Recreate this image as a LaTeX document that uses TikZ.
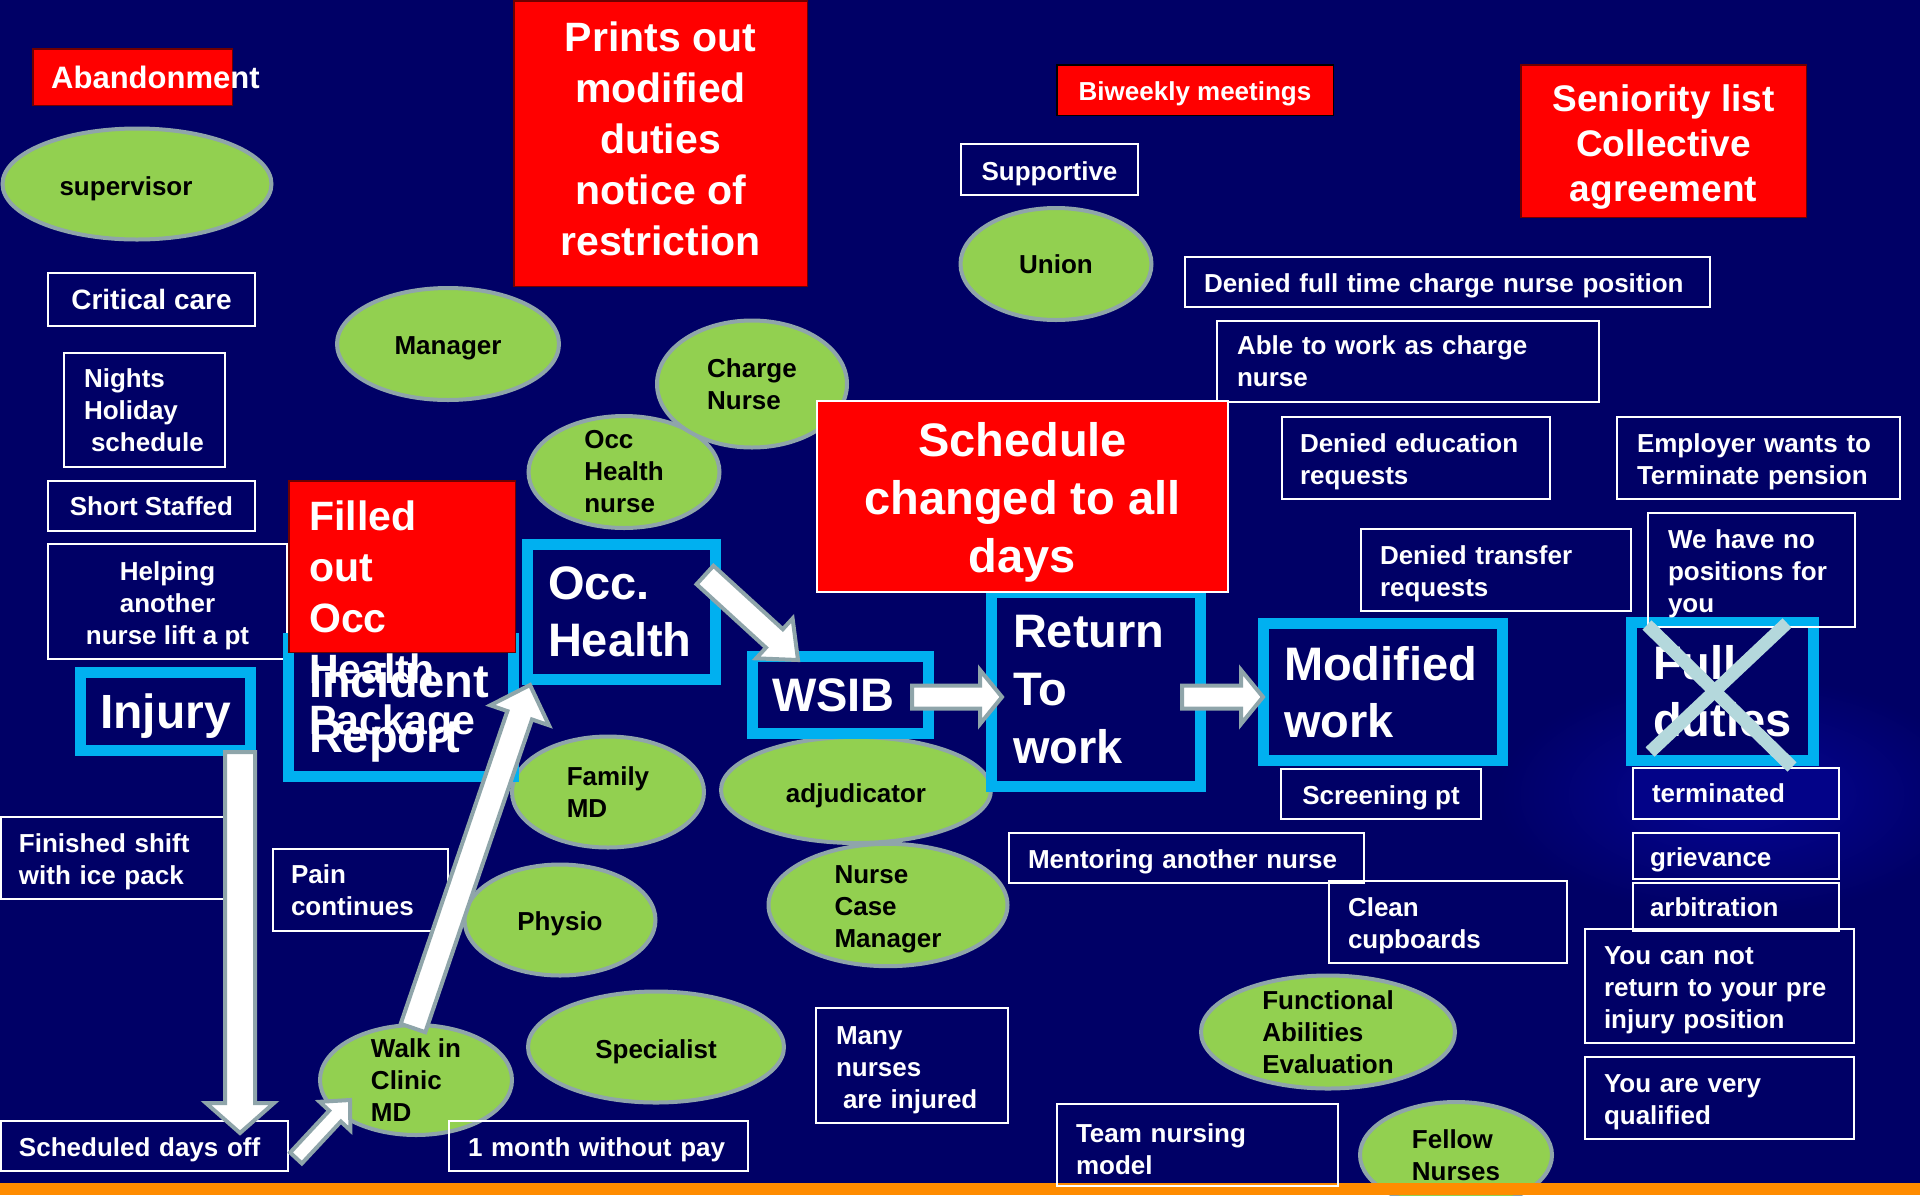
\documentclass[tikz,border=0pt]{standalone}
\usepackage{fontspec}
\setmainfont{Liberation Sans}
\usetikzlibrary{shapes.geometric,calc}
\hyphenpenalty=10000 \exhyphenpenalty=10000
\definecolor{navy}{RGB}{0,0,102}
\definecolor{cyanb}{RGB}{0,176,240}
\definecolor{leaf}{RGB}{146,208,80}
\definecolor{rim}{RGB}{143,165,170}
\definecolor{redb}{RGB}{255,0,0}
\definecolor{darkrim}{RGB}{110,0,0}
\definecolor{crossc}{RGB}{180,216,220}
\definecolor{orangeb}{RGB}{255,140,0}
\definecolor{glowc}{RGB}{5,5,150}
\newcommand\fntA{\bfseries\fontsize{26pt}{32pt}\selectfont}
\newcommand\fntB{\bfseries\fontsize{28pt}{34pt}\selectfont}
\newcommand\fntC{\bfseries\fontsize{47pt}{57pt}\selectfont}
\newcommand\fntR{\bfseries\fontsize{47pt}{58pt}\selectfont}
\newcommand\fntI{\bfseries\fontsize{48pt}{56pt}\selectfont}
\newcommand\fntD{\bfseries\fontsize{47pt}{55pt}\selectfont}
\newcommand\fntF{\bfseries\fontsize{41pt}{51pt}\selectfont}
\newcommand\fntS{\bfseries\fontsize{37pt}{45pt}\selectfont}
\newcommand\fntT{\bfseries\fontsize{31pt}{37pt}\selectfont}
% strut that lifts the first line height (keeps text cap-centred when the last line has descenders)
\newcommand\tp{\rule{0pt}{27pt}}
\newcommand\tq[1]{\rule{0pt}{#1}}
% block arrow: #1 tail, #2 tip, #3 half shaft, #4 half head, #5 head length
\newcommand\blockarr[5]{%
  \path ($(#2)!#5!(#1)$) coordinate (bahd);
  \draw[barrow] ($(#1)!#3!90:(#2)$) -- ($(bahd)!#3!90:(#2)$) -- ($(bahd)!#4!90:(#2)$) -- (#2)
    -- ($(bahd)!#4!-90:(#2)$) -- ($(bahd)!#3!-90:(#2)$) -- ($(#1)!#3!-90:(#2)$) -- cycle;}
\begin{document}
\begin{tikzpicture}[x=1pt,y=-1pt,
  wbox/.style={draw=white, line width=2pt, text=white, inner ysep=0pt, anchor=north west, align=left, font=\fntA},
  cbox/.style={draw=cyanb, line width=11pt, fill=navy, text=white, inner ysep=0pt, anchor=north west, align=left, font=\fntC},
  rbox/.style={fill=redb, draw=darkrim, line width=1.5pt, text=white, inner sep=0pt, anchor=north west, align=center},
  ell/.style={ellipse, fill=leaf, draw=rim, line width=4pt, text=black, font=\fntA, align=left, inner xsep=0pt, inner ysep=-5pt},
  barrow/.style={draw=rim, fill=white, line width=4pt, line join=miter},
  xline/.style={draw=crossc, line width=13pt}]
% background
\fill[navy] (0,0) rectangle (1920,1195);
\useasboundingbox (0,0) rectangle (1920,1195);
\shade[inner color=glowc, outer color=navy] (1736,795) ellipse (240 and 120);

% red boxes (top)
\node[rbox, minimum width=199.5pt, minimum height=56.5pt] (aband) at (32,48) {};
\node[anchor=base west, inner sep=0pt, text=white, font=\fntT] (abandtxt) at (51,88) {Abandonment};
\node[rbox, minimum width=293.5pt, minimum height=285.5pt, font=\fntF] (prints) at (513,0) {Prints out\\modified\\duties\\notice of\\restriction\rule[-10pt]{0pt}{0pt}};
\node[rbox, draw=black, minimum width=276.5pt, minimum height=50.5pt, font=\fntA] (biweekly) at (1056,64) {\tq{27pt}Biweekly meetings};
\node[rbox, minimum width=285.5pt, minimum height=152.5pt, font=\fntS] (seniority) at (1520,64) {\tq{39pt}Seniority list\\Collective\\agreement};

% ellipses
\node[ell, minimum width=269pt, minimum height=111pt] (supervisor) at (137,184) {\hspace*{-22pt}\tq{28pt}supervisor};
\node[ell, minimum width=222pt, minimum height=112pt] (manager) at (448,344) {\tp Manager};
\node[ell, minimum width=191pt, minimum height=112pt] (occn) at (624,472) {Occ\\Health\\nurse};
\node[ell, minimum width=190pt, minimum height=127pt] (charge) at (752,384) {Charge\\Nurse};
\node[ell, minimum width=191pt, minimum height=112pt] (union) at (1056,264) {Union};
\node[ell, minimum width=192pt, minimum height=111pt] (family) at (608,792) {Family\\MD};
\node[ell, minimum width=191pt, minimum height=111pt] (physio) at (560,920) {\tp Physio};
\node[ell, minimum width=270pt, minimum height=106pt] (adjud) at (856,790) {\tq{30pt}adjudicator};
\node[ell, minimum width=239pt, minimum height=112pt] (ncm) at (888,905) {\tp Nurse\\Case\\Manager};
\node[ell, minimum width=192pt, minimum height=110pt] (walkin) at (416,1080) {Walk in\\Clinic\\MD};
\node[ell, minimum width=256pt, minimum height=111pt] (specialist) at (656,1047) {\tq{28pt}Specialist};
\node[ell, minimum width=254pt, minimum height=113pt] (fae) at (1328,1032) {Functional\\Abilities\\Evaluation};
\node[ell, minimum width=192pt, minimum height=106pt] (fellow) at (1456,1155) {Fellow\\Nurses};

% white boxes, left column
\node[wbox, align=center, font=\fntB, minimum width=207pt, minimum height=53pt] (critical) at (47,272) {Critical care};
\node[wbox, minimum width=161pt, minimum height=114pt, inner xsep=20pt, text width=121pt] (nights) at (63,352) {Nights\\Holiday\\\hspace*{7pt}schedule};
\node[wbox, align=center, minimum width=207pt, minimum height=50pt] (short) at (47,480) {Short Staffed};
\node[wbox, align=center, minimum width=239pt, minimum height=115pt] (helping) at (47,543) {\tp Helping\\another\\nurse lift a pt};
\node[wbox, minimum width=224pt, minimum height=82pt, inner xsep=18pt, text width=188pt] (finished) at (0,816) {\tp Finished shift\\with ice pack};
\node[wbox, minimum width=175pt, minimum height=82pt, inner xsep=18pt, text width=139pt] (pain) at (272,848) {Pain\\continues};
\node[wbox, minimum width=287pt, minimum height=50pt, inner xsep=18pt, text width=251pt] (sched) at (0,1120) {\tp Scheduled days off};
\node[wbox, minimum width=299pt, minimum height=50pt, inner xsep=19pt, text width=261pt] (month) at (448,1120) {\tp 1 month without pay};

% white boxes, middle and right
\node[wbox, align=center, minimum width=177pt, minimum height=51pt] (supportive) at (960,143) {\tq{28pt}Supportive};
\node[wbox, minimum width=525pt, minimum height=50pt, inner xsep=19pt, text width=487pt] (denfull) at (1184,256) {\tp Denied full time charge nurse position};
\node[wbox, minimum width=382pt, minimum height=81pt, inner xsep=20pt, text width=342pt] (able) at (1216,320) {Able to work as charge\\nurse};
\node[wbox, minimum width=268pt, minimum height=82pt, inner xsep=18pt, text width=232pt] (dened) at (1281,416) {\tp Denied education\\requests};
\node[wbox, minimum width=283pt, minimum height=82pt, inner xsep=20pt, text width=243pt] (employer) at (1616,416) {\tp Employer wants to\\Terminate pension};
\node[wbox, minimum width=270pt, minimum height=82pt, inner xsep=19pt, text width=232pt] (dentrans) at (1360,528) {\tp Denied transfer\\requests};
\node[wbox, align=center, minimum width=200pt, minimum height=50pt] (screening) at (1280,768) {\tp Screening pt};
\node[wbox, minimum width=355pt, minimum height=50pt, inner xsep=19pt, text width=317pt] (mentoring) at (1008,832) {\tp Mentoring another nurse};
\node[wbox, minimum width=238pt, minimum height=82pt, inner xsep=19pt, text width=200pt] (clean) at (1328,880) {\tp Clean\\cupboards};
\node[wbox, minimum width=192pt, minimum height=115pt, inner xsep=20pt, text width=152pt] (many) at (815,1007) {\tp Many\\nurses\\\hspace*{7pt}are injured};
\node[wbox, fill=glowc!70!navy, minimum width=206pt, minimum height=51pt, inner xsep=19pt, text width=168pt] (terminated) at (1632,767) {terminated};
\node[wbox, minimum width=206pt, minimum height=46pt, inner xsep=17pt, text width=172pt] (grievance) at (1632,832) {\tp grievance};
\node[wbox, minimum width=206pt, minimum height=48pt, inner xsep=17pt, text width=172pt] (arbitration) at (1632,882) {arbitration};
\node[wbox, minimum width=269pt, minimum height=114pt, inner xsep=19pt, text width=231pt] (cannot) at (1584,928) {\tp You can not\\return to your pre\\injury position};
\node[wbox, minimum width=269pt, minimum height=82pt, inner xsep=19pt, text width=231pt] (qualified) at (1584,1056) {\tp You are very\\qualified};

% cyan process boxes
\node[cbox, font=\fntD, minimum width=225pt, minimum height=138pt, inner xsep=20.5pt, text width=184pt] (incident) at (283,633) {\tq{44pt}Incident\\Report};
\node[rbox, minimum width=226.5pt, minimum height=171.5pt] (filled) at (288,480) {};
\node[anchor=base west, inner sep=0pt, text=white, font=\fntF] (filledtxt) at (309,530) {\vtop{\hbox{Filled}\hbox{out}\hbox{Occ}\hbox{Health}\hbox{Package}}};
\node[cbox, font=\fntI, align=center, minimum width=170pt, minimum height=78pt] (injury) at (75,667) {\tq{44pt}Injury};
\node[cbox, minimum width=188pt, minimum height=135pt, inner xsep=20.5pt, text width=147pt] (occh) at (522,539) {Occ.\\Health};
\node[cbox, minimum width=176pt, minimum height=77pt, inner xsep=19.5pt, text width=137pt] (wsib) at (747,651) {WSIB};
\node[cbox, font=\fntR, minimum width=209pt, minimum height=194pt, inner xsep=21.5pt, text width=166pt] (ret) at (986,587) {Return\\To\\work};
\node[rbox, draw=white, line width=2pt, font=\fntR, minimum width=411pt, minimum height=191pt] (schedule) at (816,400) {\tq{46pt}Schedule\\changed to all\\days};
\node[cbox, minimum width=239pt, minimum height=137pt, inner xsep=20.5pt, text width=198pt] (mod) at (1258,618) {Modified\\work};
\node[cbox, minimum width=182pt, minimum height=138pt, inner xsep=21.5pt, text width=139pt] (full) at (1626,617) {Full\\duties};
\node[wbox, minimum width=207pt, minimum height=114pt, inner xsep=20pt, text width=167pt] (noposit) at (1647,512) {\tp We have no\\positions for\\you};

% cross over Full duties
\coordinate (xa1) at (1647,625);
\coordinate (xb1) at (1792,767);
\coordinate (xa2) at (1787,623);
\coordinate (xb2) at (1650,752);
\draw[xline] (xa1) -- (xb1);
\draw[xline] (xa2) -- (xb2);

% block arrows
\coordinate (injA) at (240,752);
\coordinate (injB) at (240,1133);
\coordinate (sdA) at (296,1158);
\coordinate (sdB) at (350,1100);
\coordinate (wkA) at (413,1028);
\coordinate (wkB) at (530,685);
\coordinate (ohA) at (705,575);
\coordinate (ohB) at (798,660);
\coordinate (wsA) at (912,697);
\coordinate (wsB) at (1002,697);
\coordinate (rtA) at (1182,697);
\coordinate (rtB) at (1263,697);
\blockarr{injA}{injB}{15pt}{34pt}{30pt}
\blockarr{sdA}{sdB}{8pt}{21pt}{22pt}
\blockarr{wkA}{wkB}{13pt}{31pt}{32pt}
\blockarr{ohA}{ohB}{12.5pt}{27pt}{32pt}
\blockarr{wsA}{wsB}{11.5pt}{27pt}{22pt}
\blockarr{rtA}{rtB}{11.5pt}{27pt}{22pt}

% bottom bar
\fill[orangeb] (0,1183) rectangle (1920,1195);
\node[wbox, minimum width=281pt, minimum height=82pt, inner xsep=19pt, text width=243pt] (team) at (1056,1103) {\tp Team nursing\\model};
\end{tikzpicture}
\end{document}
